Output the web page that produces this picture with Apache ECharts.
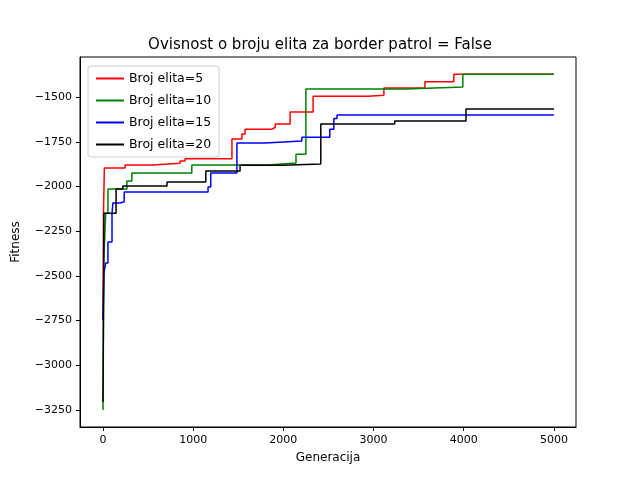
<!DOCTYPE html>
<html><head><meta charset="utf-8">
<script src="https://cdn.jsdelivr.net/npm/echarts@6/dist/echarts.min.js"></script>
<style>html,body{margin:0;padding:0;background:#fff}#c{width:640px;height:480px}</style>
</head><body><div id="c"></div>
<script>
const names = ['Broj elita=5','Broj elita=10','Broj elita=15','Broj elita=20'];
const colors = ['#ff0000','#008000','#0000ff','#000000'];
const red = [[0,-2750],[5,-2160],[15,-1897],[245,-1880],[555,-1870],[855,-1858],[910,-1845],[1430,-1735],[1540,-1707],[1575,-1680],[1870,-1670],[1910,-1650],[2075,-1584],[2330,-1495],[2940,-1490],[3115,-1450],[3570,-1415],[3890,-1372],[5000,-1372]];
const green = [[0,-3250],[10,-2400],[30,-2150],[55,-2014],[265,-1970],[320,-1925],[985,-1880],[1830,-1869],[2140,-1820],[2250,-1455],[3360,-1444],[3990,-1372],[5000,-1372]];
const blue = [[0,-2747],[10,-2485],[30,-2428],[55,-2310],[100,-2150],[110,-2092],[190,-2085],[235,-2031],[1165,-2003],[1195,-1925],[1485,-1757],[1795,-1746],[2205,-1725],[2515,-1680],[2560,-1620],[2595,-1600],[5000,-1598]];
const black = [[0,-3205],[10,-2150],[145,-2014],[220,-1997],[710,-1975],[1140,-1914],[1520,-1882],[1985,-1875],[2415,-1650],[3235,-1634],[4025,-1567],[5000,-1567]];
const xTicks = [0,1000,2000,3000,4000,5000];
const yTicks = [-3250,-3000,-2750,-2500,-2250,-2000,-1750,-1500];
const all = [red, green, blue, black];
const font = 'DejaVu Sans';
const chart = echarts.init(document.getElementById('c'));
chart.setOption({
  animation:false,
  textStyle:{fontFamily:font},
  title:{text:'Ovisnost o broju elita za border patrol = False',left:'center',top:33,textStyle:{fontSize:15,fontWeight:'normal',color:'#000',fontFamily:font}},
  legend:{data:names,orient:'vertical',left:88,top:66,itemWidth:28,itemHeight:2,itemGap:9,icon:'rect',
    borderColor:'#ccc',borderWidth:1,borderRadius:3,padding:[6,8,6,8],backgroundColor:'rgba(255,255,255,0.8)',
    textStyle:{fontSize:12.5,color:'#000',fontFamily:font}},
  grid:{left:80,right:64,top:57,bottom:53,show:true,borderColor:'#000',borderWidth:1},
  xAxis:{type:'value',min:-255,max:5245,name:'Generacija',nameLocation:'middle',nameGap:25,
    nameTextStyle:{fontSize:12,color:'#000'},
    axisLine:{onZero:false,lineStyle:{color:'#000'}},splitLine:{show:false},
    axisTick:{customValues:xTicks,length:4,lineStyle:{color:'#000'}},
    axisLabel:{customValues:xTicks,fontSize:11,color:'#000',formatter:v=>String(v)}},
  yAxis:{type:'value',min:-3345,max:-1276,name:'Fitness',nameLocation:'middle',nameGap:58,
    nameTextStyle:{fontSize:12,color:'#000'},
    axisLine:{show:true,onZero:false,lineStyle:{color:'#000'}},splitLine:{show:false},
    axisTick:{show:true,customValues:yTicks,length:4,lineStyle:{color:'#000'}},
    axisLabel:{customValues:yTicks,fontSize:11,color:'#000',formatter:v=>String(v).replace('-','\u2212')}},
  series: all.map((d,i)=>({name:names[i],type:'line',step:'end',data:d,showSymbol:false,
    lineStyle:{color:colors[i],width:1.5},itemStyle:{color:colors[i]}}))
});
</script></body></html>
